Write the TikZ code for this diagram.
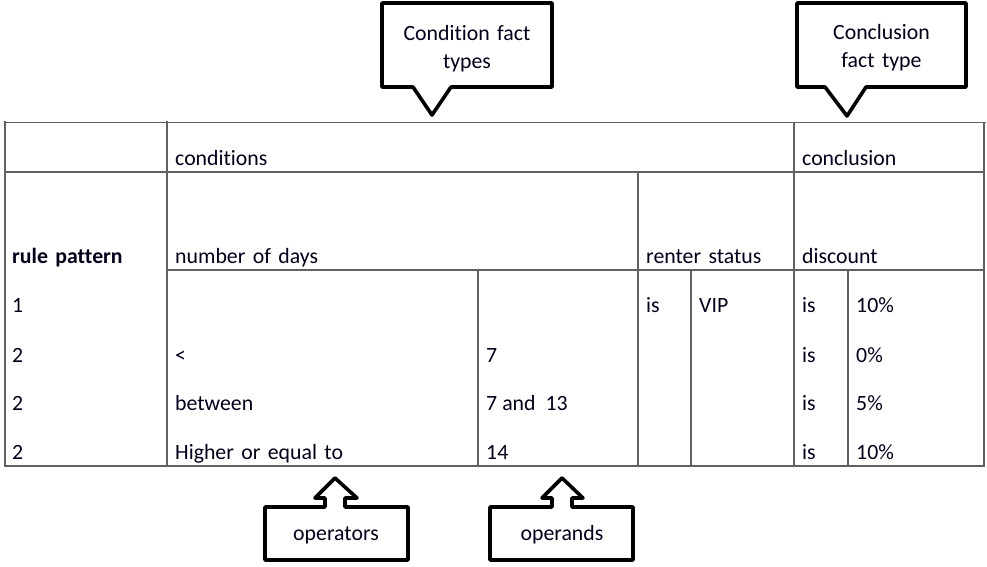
\documentclass[tikz,border=0pt]{standalone}
\usepackage{fontspec}
\setmainfont{Carlito}[Ligatures=NoCommon, WordSpace=1.5]
\begin{document}
\begin{tikzpicture}[x=1pt,y=-1pt,
  gridline/.style={draw=black!62, line width=1.7pt},
  callout/.style={draw=black, line width=3.6pt, line join=round, fill=white},
  cell/.style={anchor=base west, inner sep=0pt, text=black!90!blue,
    font=\fontsize{21.8}{24}\selectfont},
  label/.style={anchor=base, inner sep=0pt, text=black!90!blue,
    font=\fontsize{21.8}{24}\selectfont}]
\useasboundingbox (0,0) rectangle (987,566);

% ---- table rules ----
\draw[gridline] (4,122.5) -- (986,122.5);
\draw[gridline] (4,172) -- (984,172);
\draw[gridline] (167,270) -- (984,270);
\draw[gridline] (4,466) -- (984,466);
\draw[gridline] (5,121) -- (5,467);
\draw[gridline] (167,121) -- (167,467);
\draw[gridline] (638,172) -- (638,467);
\draw[gridline] (794,122) -- (794,467);
\draw[gridline] (984,122) -- (984,467);
\draw[gridline] (478,270) -- (478,467);
\draw[gridline] (691,270) -- (691,467);
\draw[gridline] (848,270) -- (848,467);

% ---- header cells ----
\node[cell] (hcond) at (175,165) {conditions};
\node[cell] (hconc) at (802,165) {conclusion};
\node[cell, font=\fontsize{21.8}{24}\selectfont\bfseries] (hrule) at (12,263) {rule pattern};
\node[cell] (hdays) at (175,263) {number of days};
\node[cell] (hrent) at (646,263) {renter status};
\node[cell] (hdisc) at (802,263) {discount};

% ---- rule rows ----
\node[cell] (r1a) at (12,312) {1};
\node[cell] (r1b) at (646,312) {is};
\node[cell] (r1c) at (699,312) {VIP};
\node[cell] (r1d) at (802,312) {is};
\node[cell] (r1e) at (856,312) {10\%};

\node[cell] (r2a) at (12,362) {2};
\node[cell] (r2b) at (175,362) {<};
\node[cell] (r2c) at (486,362) {7};
\node[cell] (r2d) at (802,362) {is};
\node[cell] (r2e) at (856,362) {0\%};

\node[cell] (r3a) at (12,410) {2};
\node[cell] (r3b) at (175,410) {between};
\node[cell] (r3c) at (486,410) {7\hspace{5pt}and\hspace{10pt}13};
\node[cell] (r3d) at (802,410) {is};
\node[cell] (r3e) at (856,410) {5\%};

\node[cell] (r4a) at (12,459) {2};
\node[cell] (r4b) at (175,459) {Higher or equal to};
\node[cell] (r4c) at (486,459) {14};
\node[cell] (r4d) at (802,459) {is};
\node[cell] (r4e) at (856,459) {10\%};

% ---- callouts above the table ----
\draw[callout] (382,3) -- (552,3) -- (552,87) -- (451,87) -- (432,115)
  -- (413,87) -- (382,87) -- cycle;
\node[label] (cft1) at (467,40) {Condition fact};
\node[label] (cft2) at (467,68) {types};

\draw[callout] (797,3) -- (966,3) -- (966,87) -- (866,87) -- (847,116)
  -- (825,87) -- (797,87) -- cycle;
\node[label] (cnc1) at (881.5,39) {Conclusion};
\node[label] (cnc2) at (881.5,67) {fact type};

% ---- callouts below the table ----
\draw[callout] (265,507) -- (325,507) -- (325,498) -- (315,498) -- (335,478)
  -- (357,498) -- (345,498) -- (345,507) -- (408,507) -- (408,560)
  -- (265,560) -- cycle;
\node[label] (ops) at (336,540) {operators};

\draw[callout] (490,507) -- (552,507) -- (552,498) -- (542,498) -- (562,478)
  -- (583,498) -- (572,498) -- (572,507) -- (633,507) -- (633,560)
  -- (490,560) -- cycle;
\node[label] (opd) at (562,540) {operands};
\end{tikzpicture}
\end{document}
